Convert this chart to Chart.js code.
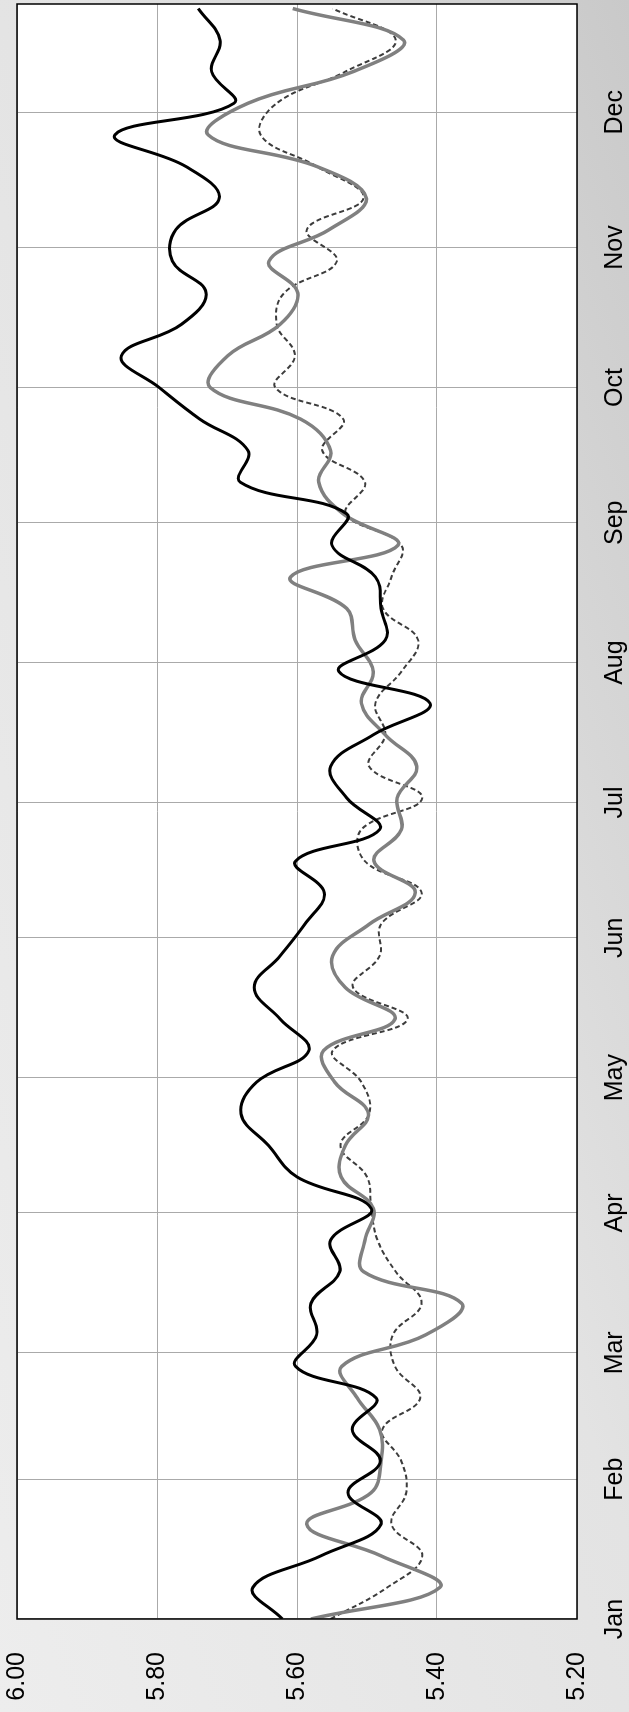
<!DOCTYPE html>
<html lang="en">
<head>
  <meta charset="UTF-8">
  <title>Weekly series</title>
  <script src="https://cdn.jsdelivr.net/npm/chart.js@4.4.1/dist/chart.umd.min.js"></script>
  <style>
    html, body { margin: 0; padding: 0; }
    body {
      width: 629px;
      height: 1712px;
      overflow: hidden;
      position: relative;
      background: linear-gradient(to top right, #ededed 0%, #e3e3e3 55%, #c9c9c9 100%);
    }
    /* chart is drawn landscape, then turned a quarter turn counter-clockwise */
    .rot {
      position: absolute;
      left: 0;
      top: 0;
      width: 1712px;
      height: 629px;
      transform-origin: 0 0;
      transform: translateY(1712px) rotate(-90deg);
    }
  </style>
</head>
<body>
  <div class="rot"><canvas id="myChart" width="1712" height="629"></canvas></div>
  <script>
    // weekly samples (day of year)
    const days = [0, 7, 14, 21, 28, 35, 42, 49, 56, 63, 70, 77, 84, 91, 98, 105, 112, 119, 126, 133,
      140, 147, 154, 161, 168, 175, 182, 189, 196, 203, 210, 217, 224, 231, 238, 245, 252, 259, 266,
      273, 280, 287, 294, 301, 308, 315, 322, 329, 336, 343, 350, 357];
    const monthNames = ['Jan', 'Feb', 'Mar', 'Apr', 'May', 'Jun', 'Jul', 'Aug', 'Sep', 'Oct', 'Nov', 'Dec'];
    const monthStarts = [0, 31, 59, 90, 120, 151, 181, 212, 243, 273, 304, 334];
    const valueTicks = [5.2, 5.4, 5.6, 5.8, 6.0];

    const seriesBlack = [5.621, 5.663, 5.566, 5.480, 5.527, 5.481, 5.521, 5.487, 5.602, 5.572,
      5.580, 5.539, 5.552, 5.494, 5.600, 5.641, 5.680, 5.658, 5.583, 5.624,
      5.661, 5.624, 5.589, 5.561, 5.602, 5.482, 5.529, 5.552, 5.491, 5.410,
      5.540, 5.474, 5.480, 5.488, 5.550, 5.529, 5.681, 5.670, 5.739, 5.797,
      5.851, 5.765, 5.730, 5.778, 5.773, 5.711, 5.759, 5.860, 5.690, 5.722,
      5.710, 5.741];
    const seriesGray = [5.580, 5.396, 5.480, 5.586, 5.494, 5.480, 5.482, 5.514, 5.536, 5.416,
      5.365, 5.505, 5.503, 5.491, 5.537, 5.531, 5.498, 5.546, 5.562, 5.460,
      5.531, 5.549, 5.497, 5.431, 5.490, 5.451, 5.457, 5.429, 5.474, 5.508,
      5.491, 5.517, 5.529, 5.609, 5.456, 5.534, 5.569, 5.552, 5.595, 5.724,
      5.699, 5.624, 5.599, 5.640, 5.554, 5.501, 5.572, 5.727, 5.670, 5.520,
      5.448, 5.606];
    const seriesDashed = [5.552, 5.471, 5.421, 5.465, 5.444, 5.451, 5.478, 5.424, 5.460, 5.463,
      5.422, 5.459, 5.485, 5.494, 5.500, 5.538, 5.497, 5.508, 5.549, 5.442,
      5.520, 5.482, 5.480, 5.422, 5.503, 5.508, 5.421, 5.497, 5.474, 5.488,
      5.451, 5.427, 5.477, 5.465, 5.451, 5.530, 5.503, 5.564, 5.534, 5.631,
      5.603, 5.629, 5.618, 5.543, 5.586, 5.505, 5.572, 5.652, 5.629, 5.531,
      5.459, 5.549];

    const toPoints = (arr) => days.map((d, i) => ({ x: d, y: arr[i] }));

    // white plot area + black frame
    const plotFrame = {
      id: 'plotFrame',
      beforeDraw(chart) {
        const { ctx, chartArea: a } = chart;
        ctx.save();
        ctx.fillStyle = '#ffffff';
        ctx.fillRect(a.left, a.top, a.right - a.left, a.bottom - a.top);
        ctx.restore();
      },
      afterDraw(chart) {
        const { ctx, chartArea: a } = chart;
        ctx.save();
        ctx.strokeStyle = '#000000';
        ctx.lineWidth = 1.5;
        ctx.strokeRect(a.left, a.top, a.right - a.left, a.bottom - a.top);
        ctx.restore();
      }
    };

    const font = { family: "'Liberation Sans', Arial, sans-serif", size: 25 };

    const ctx = document.getElementById('myChart').getContext('2d');
    new Chart(ctx, {
      type: 'line',
      data: {
        datasets: [
          {
            label: 'A',
            data: toPoints(seriesBlack),
            borderColor: '#000000',
            borderWidth: 3,
            pointRadius: 0,
            tension: 0.4,
            fill: false
          },
          {
            label: 'B',
            data: toPoints(seriesGray),
            borderColor: '#808080',
            borderWidth: 3.5,
            pointRadius: 0,
            tension: 0.4,
            fill: false
          },
          {
            label: 'C',
            data: toPoints(seriesDashed),
            borderColor: '#3c3c3c',
            borderWidth: 2,
            borderDash: [5, 3],
            pointRadius: 0,
            tension: 0.4,
            fill: false
          }
        ]
      },
      options: {
        responsive: false,
        devicePixelRatio: 1,
        animation: false,
        layout: { padding: { top: 17, right: 4, left: 0, bottom: 0 } },
        plugins: {
          legend: { display: false },
          tooltip: { enabled: false }
        },
        scales: {
          x: {
            type: 'linear',
            min: 0,
            max: 358,
            afterBuildTicks: (scale) => {
              scale.ticks = monthStarts.map(v => ({ value: v }));
            },
            afterFit: (scale) => {
              scale.height = 52;
              scale.paddingLeft = 0;
              scale.paddingRight = 0;
            },
            ticks: {
              autoSkip: false,
              maxRotation: 0,
              minRotation: 0,
              padding: 23,
              color: '#000000',
              font: font,
              callback: (v) => monthNames[monthStarts.indexOf(v)]
            },
            grid: { color: '#aaaaaa', lineWidth: 1, drawTicks: false },
            border: { display: false }
          },
          y: {
            min: 5.2,
            max: 6.0,
            afterBuildTicks: (scale) => {
              scale.ticks = valueTicks.map(v => ({ value: v }));
            },
            afterFit: (scale) => {
              scale.width = 93;
              scale.paddingTop = 0;
              scale.paddingBottom = 0;
            },
            ticks: {
              padding: 33,
              color: '#000000',
              font: font,
              callback: (v) => Number(v).toFixed(2)
            },
            grid: { color: '#aaaaaa', lineWidth: 1, drawTicks: false },
            border: { display: false }
          }
        }
      },
      plugins: [plotFrame]
    });
  </script>
</body>
</html>
